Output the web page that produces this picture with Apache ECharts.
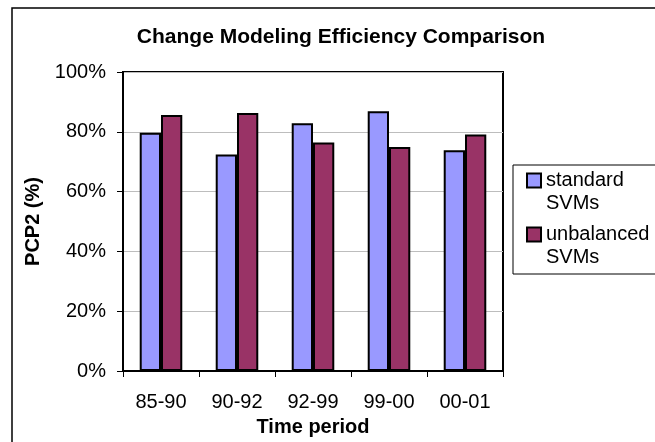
<!DOCTYPE html>
<html>
<head>
<meta charset="utf-8">
<script src="https://cdn.jsdelivr.net/npm/echarts@6/dist/echarts.min.js"></script>
<style>
html, body { margin: 0; padding: 0; background: #fff; }
#chart { width: 655px; height: 442px; }
</style>
</head>
<body>
<div id="chart"></div>
<script>
// values (percent)
var periods = ['85-90', '90-92', '92-99', '99-00', '00-01'];
var standardSvm = [79.7, 72.4, 82.9, 86.9, 73.8];
var unbalancedSvm = [85.6, 86.3, 76.4, 74.9, 79.1];
var yTicks = [0, 20, 40, 60, 80, 100];

var font = 'Arial, "Liberation Sans", sans-serif';
var chart = echarts.init(document.getElementById('chart'));

// square at the top of a tall icon box, so it sits next to the first text line
var legendIcon = 'path://M0,0H14V14H0Z M7,37L7,37';

var option = {
    animation: false,
    backgroundColor: '#fff',
    title: {
        text: 'Change Modeling Efficiency Comparison',
        left: 336,
        top: 22,
        textAlign: 'center',
        textStyle: { fontFamily: font, fontSize: 21, fontWeight: 'bold', color: '#000' }
    },
    graphic: [{
        type: 'rect',
        shape: { x: 12, y: 8, width: 660, height: 450 },
        style: { fill: 'none', stroke: '#000', lineWidth: 1.5 },
        silent: true
    }],
    legend: {
        orient: 'vertical',
        left: 513,
        top: 165,
        width: 140,
        padding: [4, 12, 5, 13],
        itemGap: 8,
        itemWidth: 14,
        itemHeight: 37,
        borderColor: '#000',
        borderWidth: 1,
        icon: legendIcon,
        itemStyle: { borderColor: '#000', borderWidth: 2 },
        textStyle: { fontFamily: font, fontSize: 20, color: '#000', lineHeight: 23 },
        data: ['standard\nSVMs', 'unbalanced\nSVMs']
    },
    grid: {
        left: 123,
        top: 72,
        right: 152,
        bottom: 69,
        show: true,
        borderColor: '#000',
        borderWidth: 2
    },
    xAxis: {
        type: 'category',
        data: periods,
        name: 'Time period',
        nameLocation: 'middle',
        nameGap: 46,
        nameTextStyle: { fontFamily: font, fontSize: 20, fontWeight: 'bold', color: '#000' },
        axisLine: { lineStyle: { color: '#000', width: 2 } },
        axisTick: { show: true, length: 6, lineStyle: { color: '#000', width: 1 } },
        axisLabel: { margin: 21, fontFamily: font, fontSize: 20, color: '#000' }
    },
    yAxis: {
        type: 'value',
        min: 0,
        max: 100,
        interval: 20,
        name: 'PCP2 (%)',
        nameLocation: 'middle',
        nameGap: 79,
        nameTextStyle: { fontFamily: font, fontSize: 20, fontWeight: 'bold', color: '#000' },
        axisLine: { show: true, lineStyle: { color: '#000', width: 2 } },
        axisTick: { show: true, length: 6, lineStyle: { color: '#000', width: 1 } },
        axisLabel: {
            margin: 17, fontFamily: font, fontSize: 20, color: '#000',
            customValues: yTicks,
            formatter: '{value}%'
        },
        splitLine: { show: true, lineStyle: { color: '#bdbdbd', width: 1 } }
    },
    series: [{
        name: 'standard\nSVMs',
        type: 'bar',
        data: standardSvm,
        barWidth: '28%',
        barGap: '0%',
        itemStyle: { color: '#9999ff', borderColor: '#000', borderWidth: 2 }
    }, {
        name: 'unbalanced\nSVMs',
        type: 'bar',
        data: unbalancedSvm,
        barWidth: '28%',
        barGap: '0%',
        itemStyle: { color: '#993366', borderColor: '#000', borderWidth: 2 }
    }]
};

chart.setOption(option);
</script>
</body>
</html>
